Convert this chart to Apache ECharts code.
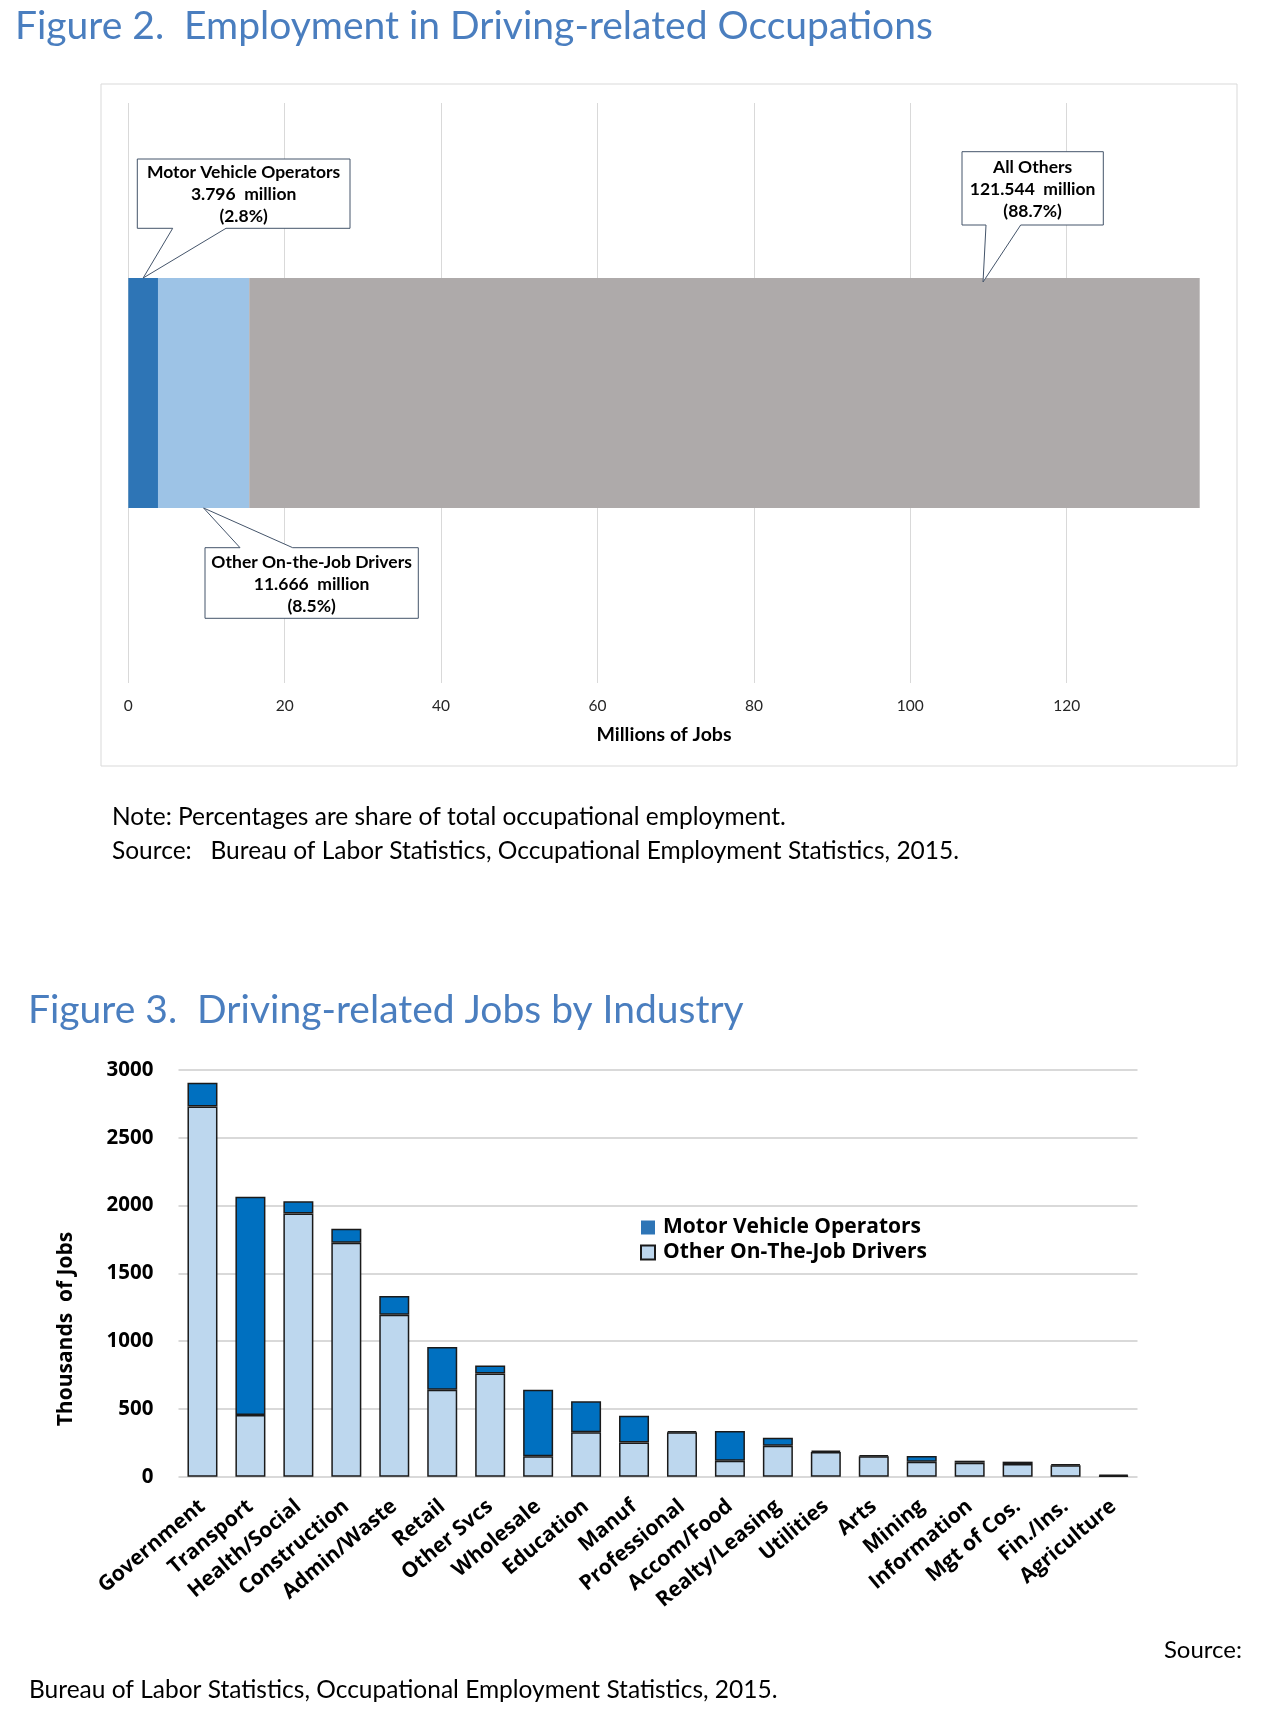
<!DOCTYPE html>
<html><head><meta charset="utf-8">
<script src="https://cdn.jsdelivr.net/npm/echarts@6/dist/echarts.min.js"></script>
<style>html,body{margin:0;padding:0;background:#fff}#c{width:1274px;height:1718px}</style>
</head><body><div id="c"></div>
<script>
// ---------- Figure 2 data ----------
const fig2Category = ['Employment'];
const fig2Names = ['Motor Vehicle Operators', 'Other On-the-Job Drivers', 'All Others'];
const fig2Values = [3.796, 11.666, 121.544];      // millions of jobs
const fig2Shares = ['2.8%', '8.5%', '88.7%'];
const fig2AllOthersAnchor = 109.3;                // where the "All Others" callout points
// ---------- Figure 3 data ----------
const industries = ['Government', 'Transport', 'Health/Social', 'Construction', 'Admin/Waste', 'Retail',
  'Other Svcs', 'Wholesale', 'Education', 'Manuf', 'Professional', 'Accom/Food', 'Realty/Leasing',
  'Utilities', 'Arts', 'Mining', 'Information', 'Mgt of Cos.', 'Fin./Ins.', 'Agriculture'];
const otherOnTheJobDrivers = [2730, 455, 1942, 1726, 1195, 642, 762, 150, 327, 253, 327, 118, 229, 182, 150, 111, 103, 93, 84, 6];
const motorVehicleOperators = [176, 1610, 89, 103, 138, 314, 59, 492, 229, 197, 10, 219, 59, 10, 10, 41, 15, 18, 9, 10];
const fig3YTicks = [0, 500, 1000, 1500, 2000, 2500, 3000];

const fig2Total = fig2Values.reduce((a, b) => a + b, 0);
const CAL = 'Lato, "Open Sans", sans-serif';
const BOLD = '"Open Sans", "DejaVu Sans", sans-serif';
const TITLE_BLUE = '#4A7EBF';

const chart = echarts.init(document.getElementById('c'), null, { renderer: 'canvas' });

const option = {
  animation: false,
  backgroundColor: '#ffffff',
  title: [
    { text: 'Figure 2.  Employment in Driving-related Occupations', left: 15, top: 7, padding: 0,
      textStyle: { fontFamily: CAL, fontSize: 39, fontWeight: 'normal', color: TITLE_BLUE } },
    { text: 'Figure 3.  Driving-related Jobs by Industry', left: 28, top: 991, padding: 0,
      textStyle: { fontFamily: CAL, fontSize: 39, fontWeight: 'normal', color: TITLE_BLUE } }
  ],
  legend: {
    show: true,
    data: ['Motor Vehicle Operators', 'Other On-The-Job Drivers'],
    orient: 'vertical', left: 640, top: 1217, padding: 0,
    itemWidth: 14, itemHeight: 14, itemGap: 4, icon: 'rect',
    textStyle: { fontFamily: BOLD, fontSize: 21, fontWeight: 'bold', color: '#000', lineHeight: 21, padding: [0, 0, 0, 3] }
  },
  grid: [
    { left: 128.3, top: 103, width: 1071.4 * (fig2Total / 137.006), height: 580, containLabel: false },
    { left: 178.5, top: 1070, width: 959, height: 406.7, containLabel: false }
  ],
  xAxis: [
    { type: 'value', gridIndex: 0, min: 0, max: fig2Total, interval: 20,
      axisLine: { show: false }, axisTick: { show: false },
      splitLine: { show: true, showMaxLine: false, lineStyle: { color: '#D9D9D9', width: 1 } },
      axisLabel: { showMaxLabel: false, fontFamily: CAL, fontSize: 15.5, color: '#262626', margin: 15 },
      name: 'Millions of Jobs', nameLocation: 'middle', nameGap: 42,
      nameTextStyle: { fontFamily: CAL, fontSize: 19.5, fontWeight: 'bold', color: '#000' } },
    { type: 'category', gridIndex: 1, data: industries,
      axisLine: { show: false }, axisTick: { show: false },
      axisLabel: { interval: 0, rotate: 40, margin: 27, fontFamily: BOLD, fontSize: 21, fontWeight: 'bold', color: '#000' } }
  ],
  yAxis: [
    { type: 'category', gridIndex: 0, data: fig2Category, show: false },
    { type: 'value', gridIndex: 1, min: fig3YTicks[0], max: fig3YTicks[fig3YTicks.length - 1], interval: 500,
      axisLine: { show: false }, axisTick: { show: false },
      splitLine: { show: true, lineStyle: { color: '#D9D9D9', width: 2 } },
      axisLabel: { margin: 25, fontFamily: BOLD, fontSize: 20.5, fontWeight: 'bold', color: '#000',
        formatter: (v) => String(v) } }
  ],
  series: [
    { name: fig2Names[0], type: 'bar', xAxisIndex: 0, yAxisIndex: 0, stack: 'f2', barWidth: 230,
      data: [fig2Values[0]], itemStyle: { color: '#2E75B6' } },
    { name: fig2Names[1], type: 'bar', xAxisIndex: 0, yAxisIndex: 0, stack: 'f2', barWidth: 230,
      data: [fig2Values[1]], itemStyle: { color: '#9DC3E6' } },
    { name: fig2Names[2], type: 'bar', xAxisIndex: 0, yAxisIndex: 0, stack: 'f2', barWidth: 230,
      data: [fig2Values[2]], itemStyle: { color: '#AEAAAA' } },
    { name: 'Other On-The-Job Drivers', type: 'bar', xAxisIndex: 1, yAxisIndex: 1, stack: 'f3', barWidth: 30,
      data: otherOnTheJobDrivers, itemStyle: { color: '#BDD7EE', borderColor: '#1a1a1a', borderWidth: 1.5 } },
    { name: 'Motor Vehicle Operators', type: 'bar', xAxisIndex: 1, yAxisIndex: 1, stack: 'f3', barWidth: 30,
      data: motorVehicleOperators, itemStyle: { color: '#0070C0', borderColor: '#1a1a1a', borderWidth: 1.5 } }
  ]
};
chart.setOption(option);

// ---------- annotations computed from the axes ----------
const px = (v) => chart.convertToPixel({ xAxisIndex: 0, yAxisIndex: 0 }, [v, 0]);
const barHalf = 115;
const center = px(0)[1];
const barTop = center - barHalf, barBot = center + barHalf;
const tip1 = [px(fig2Values[0] / 2)[0], barTop];
const tip2 = [px(fig2Values[0] + fig2Values[1] / 2)[0], barBot];
const tip3 = [px(fig2AllOthersAnchor)[0], barTop + 4];

function calloutBottom(x0, y0, x1, y1, b1, b2, tip) {
  return [[x0, y0], [x1, y0], [x1, y1], [b2, y1], tip, [b1, y1], [x0, y1]];
}
function calloutTop(x0, y0, x1, y1, b1, b2, tip) {
  return [[x0, y0], [b1, y0], tip, [b2, y0], [x1, y0], [x1, y1], [x0, y1]];
}
const boxStyle = { fill: '#fff', stroke: '#44546A', lineWidth: 1 };
function calloutText(cx, ty, lines) {
  return { type: 'text', z: 101, style: { text: lines.join('\n'), x: cx, y: ty, align: 'center', verticalAlign: 'top',
    fontFamily: 'Lato', fontSize: 17.5, fontWeight: 'bold', fill: '#000', lineHeight: 22 } };
}
const fmt = (v) => v.toFixed(3) + '  million';

const graphics = [
  { type: 'rect', z: -1, shape: { x: 101, y: 84, width: 1136, height: 682 }, style: { fill: 'none', stroke: '#D9D9D9', lineWidth: 1 } },
  { type: 'polygon', z: 100, shape: { points: calloutBottom(137.3, 159, 350, 228.3, 172.7, 226, tip1) }, style: boxStyle },
  calloutText(243.6, 161.5, [fig2Names[0], fmt(fig2Values[0]), '(' + fig2Shares[0] + ')']),
  { type: 'polygon', z: 100, shape: { points: calloutTop(205, 547.7, 418.3, 618.3, 240, 292.7, tip2) }, style: boxStyle },
  calloutText(311.6, 551, [fig2Names[1], fmt(fig2Values[1]), '(' + fig2Shares[1] + ')']),
  { type: 'polygon', z: 100, shape: { points: calloutBottom(962, 151.7, 1103.3, 225, 986, 1020.7, tip3) }, style: boxStyle },
  calloutText(1032.6, 156, [fig2Names[2], fmt(fig2Values[2]), '(' + fig2Shares[2] + ')']),
  { type: 'text', style: { text: 'Note: Percentages are share of total occupational employment.', x: 112, y: 817,
      align: 'left', verticalAlign: 'middle', fontFamily: 'Lato', fontSize: 24.5, fill: '#000' } },
  { type: 'text', style: { text: 'Source:   Bureau of Labor Statistics, Occupational Employment Statistics, 2015.', x: 112, y: 851,
      align: 'left', verticalAlign: 'middle', fontFamily: 'Lato', fontSize: 24.5, fill: '#000' } },
  { type: 'text', rotation: Math.PI / 2, x: 66, y: 1329, style: { text: 'Thousands  of Jobs', x: 0, y: 0,
      align: 'center', verticalAlign: 'middle', fontFamily: BOLD, fontSize: 21, fontWeight: 'bold', fill: '#000' } },
  { type: 'text', style: { text: 'Source:', x: 1242, y: 1650, align: 'right', verticalAlign: 'middle',
      fontFamily: 'Lato', fontSize: 24, fill: '#000' } },
  { type: 'text', style: { text: 'Bureau of Labor Statistics, Occupational Employment Statistics, 2015.', x: 29, y: 1690,
      align: 'left', verticalAlign: 'middle', fontFamily: 'Lato', fontSize: 24.5, fill: '#000' } }
];
chart.setOption({ graphic: graphics });
</script></body></html>
